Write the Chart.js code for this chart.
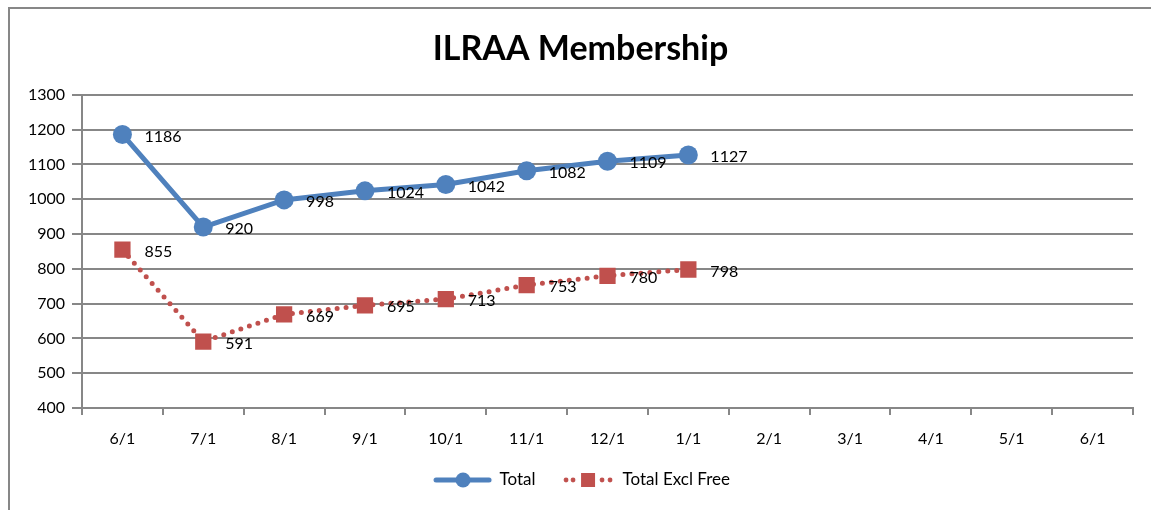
<!DOCTYPE html>
<html>
<head>
<meta charset="utf-8">
<script src="https://cdn.jsdelivr.net/npm/chart.js@4"></script>
<style>
  html, body { margin: 0; padding: 0; background: #fff; }
  #wrap { width: 1151px; height: 510px; position: relative; }
</style>
</head>
<body>
<div id="wrap"><canvas id="membershipChart"></canvas></div>
<script>
// Données du graphique
const months = ['6/1', '7/1', '8/1', '9/1', '10/1', '11/1', '12/1', '1/1', '2/1', '3/1', '4/1', '5/1', '6/1'];
const totalValues = [1186, 920, 998, 1024, 1042, 1082, 1109, 1127, null, null, null, null, null];
const exclFreeValues = [855, 591, 669, 695, 713, 753, 780, 798, null, null, null, null, null];
const yMin = 400, yMax = 1300, yStep = 100;

const BLUE = '#4F81BD';
const RED = '#C0504D';
const GRID = '#878787';
const FONT = 'Lato, "Open Sans", sans-serif';

// Petites images pour la légende (ligne + marqueur, façon Excel)
function legendIcon(kind) {
    const c = document.createElement('canvas');
    const g = c.getContext('2d');
    if (kind === 'total') {
        c.width = 64; c.height = 18;
        g.strokeStyle = BLUE; g.lineWidth = 5; g.lineCap = 'round';
        g.beginPath(); g.moveTo(7, 9); g.lineTo(60, 9); g.stroke();
        g.fillStyle = BLUE;
        g.beginPath(); g.arc(34, 9, 7.5, 0, Math.PI * 2); g.fill();
    } else {
        c.width = 58; c.height = 18;
        g.fillStyle = RED;
        [11, 18, 47, 55].forEach(x => { g.beginPath(); g.arc(x, 9, 2.4, 0, Math.PI * 2); g.fill(); });
        g.fillRect(26, 2, 14, 14);
    }
    return c;
}

// Cadre gris autour du graphique
const framePlugin = {
    id: 'frame',
    beforeDraw(chart) {
        const c = chart.ctx;
        c.save();
        c.fillStyle = '#fff';
        c.fillRect(0, 0, chart.width, chart.height);
        c.strokeStyle = GRID;
        c.lineWidth = 2;
        c.beginPath();
        c.moveTo(9, chart.height);
        c.lineTo(9, 8);
        c.lineTo(chart.width, 8);
        c.stroke();
        c.restore();
    }
};

// Étiquettes de valeurs à droite de chaque point
const valueLabels = {
    id: 'valueLabels',
    afterDatasetsDraw(chart) {
        const c = chart.ctx;
        c.save();
        c.font = '16px ' + FONT;
        c.fillStyle = '#000';
        c.textAlign = 'left';
        c.textBaseline = 'middle';
        chart.data.datasets.forEach((ds, i) => {
            chart.getDatasetMeta(i).data.forEach((pt, j) => {
                const v = ds.data[j];
                if (v === null || v === undefined) return;
                c.fillText(String(v), pt.x + 22, pt.y + 2);
            });
        });
        c.restore();
    }
};

const ctx = document.getElementById('membershipChart').getContext('2d');
const chart = new Chart(ctx, {
    type: 'line',
    data: {
        labels: months,
        datasets: [{
            label: 'Total',
            data: totalValues,
            borderColor: BLUE,
            backgroundColor: BLUE,
            borderWidth: 5,
            pointStyle: 'circle',
            pointRadius: 9.5,
            pointBorderWidth: 0,
            pointBackgroundColor: BLUE,
            tension: 0
        }, {
            label: 'Total Excl Free',
            data: exclFreeValues,
            borderColor: RED,
            backgroundColor: RED,
            borderWidth: 5,
            borderDash: [0, 9],
            borderCapStyle: 'round',
            pointStyle: 'rect',
            pointRadius: 11.5,
            pointBorderWidth: 0,
            pointBackgroundColor: RED,
            tension: 0
        }]
    },
    options: {
        responsive: true,
        maintainAspectRatio: false,
        animation: false,
        layout: { padding: { left: 28, right: 18, top: 16, bottom: 11.5 } },
        scales: {
            x: {
                offset: true,
                grid: {
                    offset: true,
                    drawOnChartArea: false,
                    drawTicks: true,
                    tickLength: 7,
                    color: GRID,
                    lineWidth: 2
                },
                border: { display: true, color: GRID, width: 2 },
                ticks: { color: '#000', font: { family: FONT, size: 16 }, padding: 14, autoSkip: false, maxRotation: 0 },
                afterFit(scale) { scale.height = 45; }
            },
            y: {
                min: yMin,
                max: yMax,
                grid: { color: GRID, lineWidth: 2, tickLength: 10 },
                border: { display: true, color: GRID, width: 2 },
                ticks: {
                    stepSize: yStep,
                    color: '#000',
                    font: { family: FONT, size: 16 },
                    padding: 7,
                    callback: v => String(v)
                },
                afterFit(scale) { scale.width = 54; }
            }
        },
        plugins: {
            title: {
                display: true,
                text: 'ILRAA Membership',
                color: '#000',
                font: { family: FONT, size: 34, weight: 'bold' },
                padding: { top: 13, bottom: 25 }
            },
            legend: {
                position: 'bottom',
                labels: {
                    usePointStyle: true,
                    pointStyleWidth: 60,
                    boxHeight: 17,
                    padding: 18.5,
                    color: '#000',
                    font: { family: FONT, size: 17 },
                    generateLabels(chart) {
                        return chart.data.datasets.map((ds, i) => ({
                            text: ds.label,
                            pointStyle: legendIcon(i === 0 ? 'total' : 'excl'),
                            fillStyle: ds.borderColor,
                            strokeStyle: ds.borderColor,
                            lineWidth: 0,
                            hidden: !chart.isDatasetVisible(i),
                            datasetIndex: i
                        }));
                    }
                }
            },
            tooltip: { enabled: false }
        }
    },
    plugins: [framePlugin, valueLabels]
});
</script>
</body>
</html>
